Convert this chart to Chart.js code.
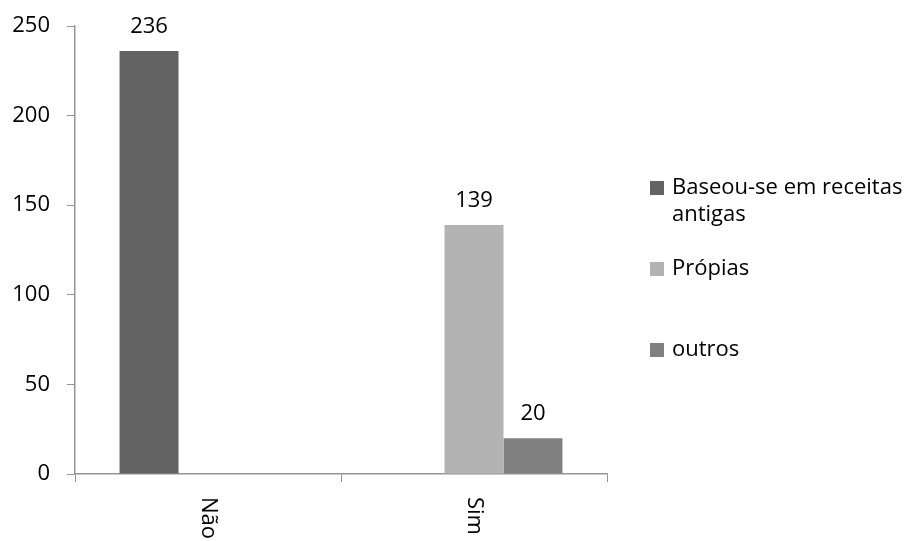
<!DOCTYPE html>
<html>
<head>
<meta charset="utf-8">
<script src="https://cdn.jsdelivr.net/npm/chart.js@4/dist/chart.umd.min.js"></script>
<style>
  html, body { margin: 0; padding: 0; background: #fff; }
  #wrap { width: 917px; height: 541px; }
</style>
</head>
<body>
<div id="wrap"><canvas id="c" width="917" height="541"></canvas></div>
<script>
// Categories and series
const categories = ['Não', 'Sim'];
const seriesNames = ['Baseou-se em receitas antigas', 'Própias', 'outros'];
const receitasAntigas = [236, null];
const proprias = [null, 139];
const outros = [null, 20];
const seriesColors = ['#626262', '#b3b3b3', '#808080'];
const yTicks = [0, 50, 100, 150, 200, 250];

const FONT = '"Open Sans", "DejaVu Sans", sans-serif';
const FONT_SIZE = 22;
const AXIS_COLOR = '#949494';

// Value labels above each bar
const valueLabels = {
  id: 'valueLabels',
  afterDatasetsDraw(chart) {
    const ctx = chart.ctx;
    ctx.save();
    ctx.font = FONT_SIZE + 'px ' + FONT;
    ctx.fillStyle = '#000';
    ctx.textAlign = 'center';
    ctx.textBaseline = 'alphabetic';
    chart.data.datasets.forEach((ds, i) => {
      chart.getDatasetMeta(i).data.forEach((bar, j) => {
        const v = ds.data[j];
        if (v === null || v === undefined) return;
        ctx.fillText(String(v), bar.x, bar.y - 18);
      });
    });
    ctx.restore();
  }
};

// Category labels written top-to-bottom under the axis
const categoryLabels = {
  id: 'categoryLabels',
  afterDraw(chart) {
    const ctx = chart.ctx;
    const xs = chart.scales.x;
    ctx.save();
    ctx.font = FONT_SIZE + 'px ' + FONT;
    ctx.fillStyle = '#000';
    ctx.textAlign = 'left';
    ctx.textBaseline = 'middle';
    categories.forEach((c, i) => {
      const x = xs.getPixelForValue(i);
      ctx.save();
      ctx.translate(x, chart.chartArea.bottom + 23);
      ctx.rotate(Math.PI / 2);
      ctx.fillText(c, 0, 0);
      ctx.restore();
    });
    ctx.restore();
  }
};

// Legend on the right with wrapped names
const sideLegend = {
  id: 'sideLegend',
  afterDraw(chart) {
    const ctx = chart.ctx;
    const boxX = 650, textX = 672, firstY = 188, step = 81, box = 14, lineH = 27;
    const maxW = chart.width - textX - 2;
    ctx.save();
    ctx.font = FONT_SIZE + 'px ' + FONT;
    ctx.textAlign = 'left';
    ctx.textBaseline = 'middle';
    chart.data.datasets.forEach((ds, i) => {
      const cy = firstY + step * i;
      ctx.fillStyle = ds.backgroundColor;
      ctx.fillRect(boxX, cy - box / 2, box, box);
      // simple word wrap
      const words = ds.label.split(' ');
      const lines = [];
      let cur = '';
      words.forEach(w => {
        const t = cur ? cur + ' ' + w : w;
        if (cur && ctx.measureText(t).width > maxW) { lines.push(cur); cur = w; }
        else cur = t;
      });
      if (cur) lines.push(cur);
      ctx.fillStyle = '#000';
      lines.forEach((ln, k) => ctx.fillText(ln, textX, cy + k * lineH));
    });
    ctx.restore();
  }
};

const seriesData = [receitasAntigas, proprias, outros];

new Chart(document.getElementById('c'), {
  type: 'bar',
  data: {
    labels: categories,
    datasets: seriesNames.map((name, i) => ({
      label: name,
      data: seriesData[i],
      backgroundColor: seriesColors[i],
      borderWidth: 0
    }))
  },
  options: {
    responsive: false,
    animation: false,
    events: [],
    layout: { padding: { left: 0, right: 310, top: 26, bottom: 0 } },
    datasets: { bar: { categoryPercentage: 0.665, barPercentage: 1.0 } },
    plugins: {
      legend: { display: false },
      tooltip: { enabled: false },
      title: { display: false }
    },
    scales: {
      x: {
        grid: { display: true, drawOnChartArea: false, drawTicks: true, tickLength: 8, color: AXIS_COLOR, offset: true },
        border: { display: true, color: AXIS_COLOR, width: 1.5 },
        ticks: { display: false },
        afterFit(scale) { scale.height = 67; }
      },
      y: {
        min: 0,
        max: 250,
        afterBuildTicks(scale) { scale.ticks = yTicks.map(v => ({ value: v })); },
        grid: { display: true, drawOnChartArea: false, drawTicks: true, tickLength: 8, color: AXIS_COLOR },
        border: { display: true, color: AXIS_COLOR, width: 1.5 },
        ticks: {
          color: '#000',
          padding: 17,
          font: { family: FONT, size: FONT_SIZE }
        },
        afterFit(scale) {
          scale.width = 75;
          scale.paddingTop = 0;
          scale.paddingBottom = 0;
        }
      }
    }
  },
  plugins: [valueLabels, categoryLabels, sideLegend]
});
</script>
</body>
</html>
